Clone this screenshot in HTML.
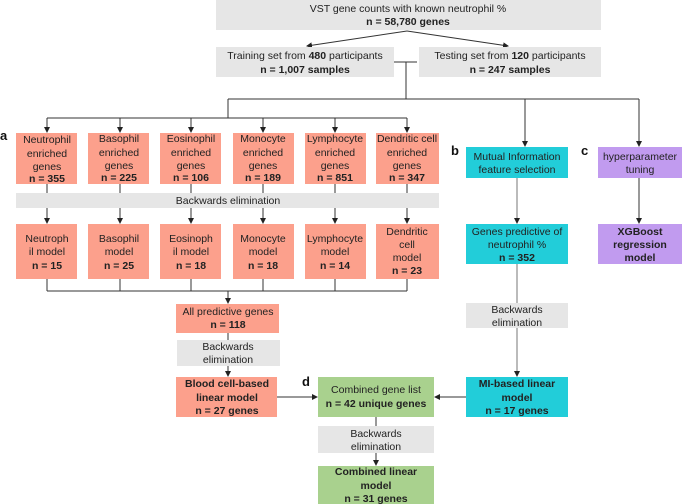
<!DOCTYPE html>
<html><head><meta charset="utf-8"><style>
html,body{margin:0;padding:0;background:#fff;}
svg{display:block;}
text{font-family:"Liberation Sans Narrow","Liberation Sans",sans-serif;font-size:10.5px;fill:#222;text-anchor:middle;}
.b{font-weight:bold;}
.lbl{font-family:"Liberation Sans",sans-serif;font-weight:bold;font-size:13px;text-anchor:start;fill:#111;}
line,polyline{stroke:#333;stroke-width:1;fill:none;}
</style></head><body>
<svg width="683" height="504" viewBox="0 0 683 504" xmlns="http://www.w3.org/2000/svg">
<defs><marker id="a" markerWidth="6" markerHeight="6" refX="5" refY="3" orient="auto" markerUnits="userSpaceOnUse"><path d="M0,0 L6,3 L0,6 z" fill="#222"/></marker></defs>
<!-- top -->
<rect x="216" y="0" width="385" height="30" fill="#e6e6e6"/>
<text x="408" y="12">VST gene counts with known neutrophil %</text>
<text x="408" y="25" class="b">n = 58,780 genes</text>
<line x1="407" y1="31" x2="307" y2="46" marker-end="url(#a)"/>
<line x1="407" y1="31" x2="508" y2="46" marker-end="url(#a)"/>
<rect x="216" y="47" width="178" height="30" fill="#e6e6e6"/>
<text x="305" y="59">Training set from <tspan class="b">480</tspan> participants</text>
<text x="305" y="73" class="b">n = 1,007 samples</text>
<rect x="419" y="47" width="182" height="30" fill="#e6e6e6"/>
<text x="510" y="59">Testing set from <tspan class="b">120</tspan> participants</text>
<text x="510" y="73" class="b">n = 247 samples</text>
<line x1="394" y1="62" x2="417" y2="62"/>
<line x1="406" y1="62" x2="406" y2="99"/>
<line x1="228" y1="99" x2="639" y2="99"/>
<line x1="228" y1="99" x2="228" y2="118"/>
<line x1="47" y1="118" x2="407" y2="118"/>
<line x1="525" y1="99" x2="525" y2="146" marker-end="url(#a)"/>
<line x1="639" y1="99" x2="639" y2="146" marker-end="url(#a)"/>
<g>
<line x1="47" y1="118" x2="47" y2="132" marker-end="url(#a)"/>
<line x1="120" y1="118" x2="120" y2="132" marker-end="url(#a)"/>
<line x1="191" y1="118" x2="191" y2="132" marker-end="url(#a)"/>
<line x1="263" y1="118" x2="263" y2="132" marker-end="url(#a)"/>
<line x1="335" y1="118" x2="335" y2="132" marker-end="url(#a)"/>
<line x1="407" y1="118" x2="407" y2="132" marker-end="url(#a)"/>
</g>
<text x="0" y="140" class="lbl">a</text>
<!-- enriched boxes -->
<g fill="#fca08c">
<rect x="16" y="133" width="61" height="51"/>
<rect x="88" y="133" width="61" height="51"/>
<rect x="160" y="133" width="61" height="51"/>
<rect x="233" y="133" width="61" height="51"/>
<rect x="305" y="133" width="61" height="51"/>
<rect x="376" y="133" width="63" height="51"/>
</g>
<text x="47" y="143">Neutrophil</text><text x="47" y="157">enriched</text><text x="47" y="170">genes</text><text x="47" y="182" class="b">n = 355</text>
<text x="119" y="142">Basophil</text><text x="119" y="156">enriched</text><text x="119" y="169">genes</text><text x="119" y="181" class="b">n = 225</text>
<text x="191" y="142">Eosinophil</text><text x="191" y="156">enriched</text><text x="191" y="169">genes</text><text x="191" y="181" class="b">n = 106</text>
<text x="263" y="142">Monocyte</text><text x="263" y="156">enriched</text><text x="263" y="169">genes</text><text x="263" y="181" class="b">n = 189</text>
<text x="335" y="142">Lymphocyte</text><text x="335" y="156">enriched</text><text x="335" y="169">genes</text><text x="335" y="181" class="b">n = 851</text>
<text x="407" y="142">Dendritic cell</text><text x="407" y="156">enriched</text><text x="407" y="169">genes</text><text x="407" y="181" class="b">n = 347</text>
<!-- verticals through BE bar -->
<g>
<line x1="47" y1="184" x2="47" y2="223" marker-end="url(#a)"/>
<line x1="120" y1="184" x2="120" y2="223" marker-end="url(#a)"/>
<line x1="191" y1="184" x2="191" y2="223" marker-end="url(#a)"/>
<line x1="263" y1="184" x2="263" y2="223" marker-end="url(#a)"/>
<line x1="335" y1="184" x2="335" y2="223" marker-end="url(#a)"/>
<line x1="407" y1="184" x2="407" y2="223" marker-end="url(#a)"/>
</g>
<rect x="16" y="193" width="423" height="15" fill="#e6e6e6"/>
<text x="228" y="204">Backwards elimination</text>
<!-- model boxes -->
<g fill="#fca08c">
<rect x="16" y="224" width="61" height="55"/>
<rect x="88" y="224" width="61" height="55"/>
<rect x="160" y="224" width="61" height="55"/>
<rect x="233" y="224" width="61" height="55"/>
<rect x="305" y="224" width="61" height="55"/>
<rect x="376" y="224" width="63" height="55"/>
</g>
<text x="47" y="242">Neutroph</text><text x="47" y="255">il model</text><text x="47" y="269" class="b">n = 15</text>
<text x="119" y="242">Basophil</text><text x="119" y="255">model</text><text x="119" y="269" class="b">n = 25</text>
<text x="191" y="242">Eosinoph</text><text x="191" y="255">il model</text><text x="191" y="269" class="b">n = 18</text>
<text x="263" y="242">Monocyte</text><text x="263" y="255">model</text><text x="263" y="269" class="b">n = 18</text>
<text x="335" y="242">Lymphocyte</text><text x="335" y="255">model</text><text x="335" y="269" class="b">n = 14</text>
<text x="407" y="235">Dendritic</text><text x="407" y="248">cell</text><text x="407" y="261">model</text><text x="407" y="274" class="b">n = 23</text>
<g>
<line x1="47" y1="279" x2="47" y2="291"/><line x1="120" y1="279" x2="120" y2="291"/>
<line x1="191" y1="279" x2="191" y2="291"/><line x1="263" y1="279" x2="263" y2="291"/>
<line x1="335" y1="279" x2="335" y2="291"/><line x1="407" y1="279" x2="407" y2="291"/>
<line x1="47" y1="291" x2="407" y2="291"/>
<line x1="228" y1="291" x2="228" y2="303" marker-end="url(#a)"/>
</g>
<rect x="176" y="304" width="103" height="29" fill="#fca08c"/>
<text x="228" y="315">All predictive genes</text>
<text x="228" y="328" class="b">n = 118</text>
<line x1="228" y1="333" x2="228" y2="376" marker-end="url(#a)"/>
<rect x="177" y="340" width="103" height="26" fill="#e6e6e6"/>
<text x="228" y="350">Backwards</text><text x="228" y="363">elimination</text>
<rect x="176" y="377" width="101" height="40" fill="#fca08c"/>
<text x="227" y="387" class="b">Blood cell-based</text>
<text x="227" y="401" class="b">linear model</text>
<text x="227" y="414" class="b">n = 27 genes</text>
<line x1="277" y1="397" x2="317" y2="397" marker-end="url(#a)"/>
<text x="302" y="386" class="lbl">d</text>
<rect x="318" y="377" width="116" height="40" fill="#a9d18e"/>
<text x="376" y="393">Combined gene list</text>
<text x="376" y="407" class="b">n = 42 unique genes</text>
<line x1="466" y1="397" x2="435" y2="397" marker-end="url(#a)"/>
<line x1="376" y1="417" x2="376" y2="465" marker-end="url(#a)"/>
<rect x="318" y="426" width="116" height="27" fill="#e6e6e6"/>
<text x="376" y="437">Backwards</text><text x="376" y="450">elimination</text>
<rect x="318" y="466" width="116" height="38" fill="#a9d18e"/>
<text x="376" y="475" class="b">Combined linear</text>
<text x="376" y="489" class="b">model</text>
<text x="376" y="502" class="b">n = 31 genes</text>
<!-- b -->
<text x="451" y="155" class="lbl">b</text>
<rect x="466" y="147" width="102" height="31" fill="#22cdd9"/>
<text x="517" y="160">Mutual Information</text>
<text x="517" y="173">feature selection</text>
<line x1="517" y1="178" x2="517" y2="223" marker-end="url(#a)" style="stroke:#777"/>
<rect x="466" y="224" width="102" height="40" fill="#22cdd9"/>
<text x="517" y="235">Genes predictive of</text>
<text x="517" y="248">neutrophil %</text>
<text x="517" y="261" class="b">n = 352</text>
<line x1="517" y1="264" x2="517" y2="376" marker-end="url(#a)" style="stroke:#777"/>
<rect x="466" y="303" width="102" height="25" fill="#e6e6e6"/>
<text x="517" y="313">Backwards</text><text x="517" y="326">elimination</text>
<rect x="466" y="377" width="102" height="40" fill="#22cdd9"/>
<text x="517" y="387" class="b">MI-based linear</text>
<text x="517" y="401" class="b">model</text>
<text x="517" y="414" class="b">n = 17 genes</text>
<!-- c -->
<text x="581" y="155" class="lbl">c</text>
<rect x="598" y="147" width="84" height="31" fill="#c19bef"/>
<text x="640" y="160">hyperparameter</text>
<text x="640" y="173">tuning</text>
<line x1="639" y1="178" x2="639" y2="223" marker-end="url(#a)"/>
<rect x="598" y="224" width="84" height="40" fill="#c19bef"/>
<text x="640" y="235" class="b">XGBoost</text>
<text x="640" y="248" class="b">regression</text>
<text x="640" y="261" class="b">model</text>
</svg>
</body></html>
